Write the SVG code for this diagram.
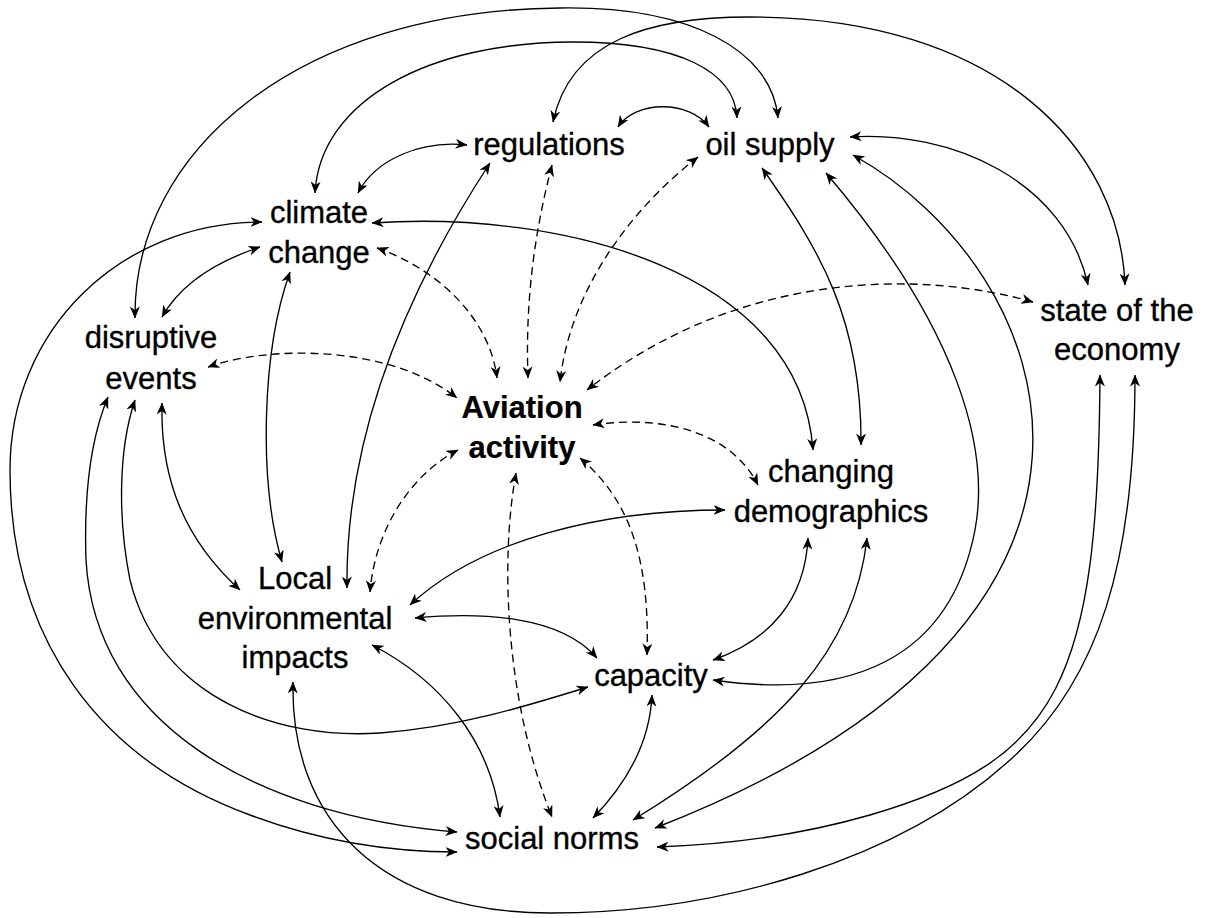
<svg xmlns="http://www.w3.org/2000/svg" width="1206" height="918" viewBox="0 0 1206 918">
<style>
  .lbl { font-family: "Liberation Sans", Arial, sans-serif; font-size: 31px; fill: #000; stroke: #000; stroke-width: 0.35; text-anchor: middle; }
  .bold { font-weight: bold; stroke-width: 0.2; }
  .c { fill: none; stroke: #000; stroke-width: 1.35; marker-start: url(#ah); marker-end: url(#ah); }
  .d { stroke-dasharray: 8 5; }
</style>
<defs>
  <marker id="ah" viewBox="0 0 12 10" markerUnits="userSpaceOnUse" markerWidth="12" markerHeight="10" refX="11.5" refY="5" orient="auto-start-reverse">
    <path d="M0,0 L12,5 L0,10 L3.5,5 Z" fill="#000" stroke="none"/>
  </marker>
</defs>
<rect width="1206" height="918" fill="#fff"/>
<g id="connectors">
  <path id="A" class="c" d="M135,318 C133,150 300,10 560,8 C690,6 772,50 778,118"/>
  <path id="B" class="c" d="M315,193 C320,100 430,42 573,42 C680,42 735,72 737,118"/>
  <path id="C" class="c" d="M553,122 C570,40 650,17 750,17 C1000,17 1120,150 1125,285"/>
  <path id="D" class="c" d="M850,137 C950,130 1065,180 1088,285"/>
  <path id="E" class="c" d="M618,127 C635,100 690,100 709,127"/>
  <path id="F" class="c" d="M467,145 C420,140 375,160 358,193"/>
  <path id="G" class="c" d="M372,223 C560,210 800,270 813,450"/>
  <path id="H" class="c" d="M260,247 C215,262 180,285 162,317"/>
  <path id="I" class="c" d="M262,222 C120,222 10,330 10,470 C10,640 100,760 250,815 C330,845 400,852 457,852"/>
  <path id="J" class="c" d="M108,397 C90,440 84,500 86,560 C95,720 250,815 457,832"/>
  <path id="K" class="c" d="M135,400 C118,450 118,520 130,580 C160,700 280,740 380,733 C460,727 530,705 588,687"/>
  <path id="L" class="c" d="M162,403 C160,480 185,540 240,590"/>
  <path id="M" class="c" d="M290,272 C262,350 258,480 282,562"/>
  <path id="N" class="c" d="M490,163 C420,270 345,420 347,588"/>
  <path id="O" class="c" d="M725,510 C600,510 480,540 410,605"/>
  <path id="P" class="c" d="M415,618 C480,612 560,615 597,658"/>
  <path id="Q" class="c" d="M372,645 C440,680 490,740 500,817"/>
  <path id="R" class="c" d="M293,682 C290,820 380,913 550,913 C720,913 900,860 1010,760 C1100,680 1135,560 1135,375"/>
  <path id="T" class="c" d="M762,168 C820,250 862,320 861,445"/>
  <path id="U" class="c" d="M826,173 C960,330 990,450 975,530 C950,660 850,700 713,680"/>
  <path id="V" class="c" d="M853,155 C1060,270 1190,620 655,828"/>
  <path id="W" class="c" d="M1100,375 C1098,680 1060,760 870,815 C790,838 720,845 657,847"/>
  <path id="X" class="c" d="M808,538 C805,600 770,640 713,660"/>
  <path id="Y" class="c" d="M867,538 C855,650 780,730 633,820"/>
  <path id="Z" class="c" d="M652,695 C650,740 630,780 593,818"/>
  <path id="d1" class="c d" d="M377,248 C440,270 490,320 497,378"/>
  <path id="d2" class="c d" d="M552,165 C535,230 525,300 528,378"/>
  <path id="d3" class="c d" d="M698,157 C630,210 570,290 560,382"/>
  <path id="d4" class="c d" d="M1033,302 C920,270 740,270 587,390"/>
  <path id="d5" class="c d" d="M208,367 C270,345 390,345 457,398"/>
  <path id="d6" class="c d" d="M593,425 C660,415 730,430 758,485"/>
  <path id="d7" class="c d" d="M458,450 C410,475 375,530 370,592"/>
  <path id="d8" class="c d" d="M516,473 C500,560 505,700 552,817"/>
  <path id="d9" class="c d" d="M580,458 C630,500 650,560 647,655"/>
</g>
<g id="regulations"><text class="lbl" x="549" y="155">regulations</text></g>
<g id="oil-supply"><text class="lbl" x="770" y="155">oil supply</text></g>
<g id="climate-change"><text class="lbl" x="319" y="223">climate</text><text class="lbl" x="319" y="263">change</text></g>
<g id="disruptive-events"><text class="lbl" x="151" y="348">disruptive</text><text class="lbl" x="151" y="389">events</text></g>
<g id="aviation-activity"><text class="lbl bold" x="522" y="418">Aviation</text><text class="lbl bold" x="522" y="458">activity</text></g>
<g id="state-of-the-economy"><text class="lbl" x="1117" y="321">state of the</text><text class="lbl" x="1117" y="360">economy</text></g>
<g id="changing-demographics"><text class="lbl" x="831" y="482">changing</text><text class="lbl" x="831" y="522">demographics</text></g>
<g id="local-environmental-impacts"><text class="lbl" x="295" y="589">Local</text><text class="lbl" x="295" y="629">environmental</text><text class="lbl" x="295" y="668">impacts</text></g>
<g id="capacity"><text class="lbl" x="651" y="686">capacity</text></g>
<g id="social-norms"><text class="lbl" x="552" y="849">social norms</text></g>
</svg>
